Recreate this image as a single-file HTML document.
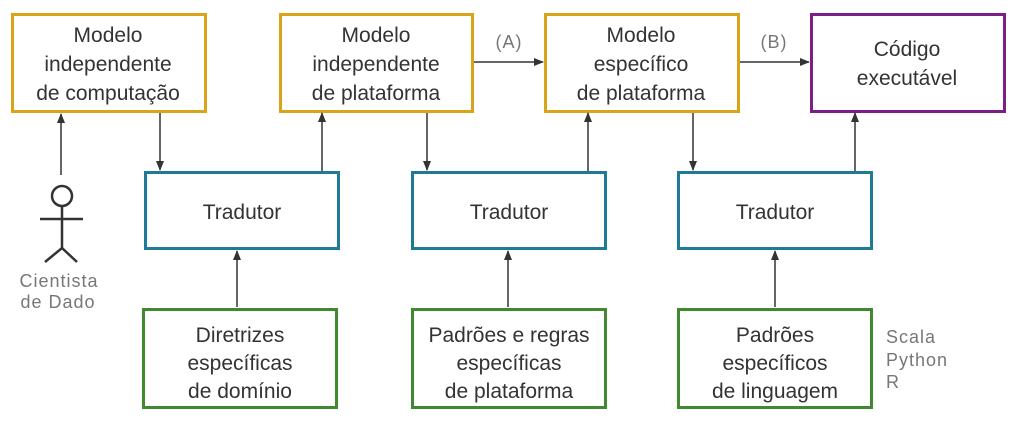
<!DOCTYPE html>
<html><head><meta charset="utf-8"><style>
html,body{margin:0;padding:0;background:#fff;}
svg{display:block;}
text{font-family:"Liberation Sans",sans-serif;fill:#333;font-size:21px;text-anchor:middle;}
.g{fill:#777;font-size:18px;letter-spacing:1px;}
</style></head><body>
<svg width="1012" height="422" viewBox="0 0 1012 422">
<defs><marker id="a" markerWidth="10" markerHeight="10" refX="9" refY="4" orient="auto" markerUnits="userSpaceOnUse"><path d="M0,0 L10,4 L0,8 z" fill="#333"/></marker></defs>
<g fill="none" stroke-width="3">
<rect x="12.5" y="14.5" width="193" height="97" stroke="#d9a419"/>
<rect x="280.5" y="14.5" width="192" height="97" stroke="#d9a419"/>
<rect x="545.5" y="14.5" width="193" height="97" stroke="#d9a419"/>
<rect x="811.5" y="14.5" width="193" height="97" stroke="#7b1f86"/>
<rect x="145.5" y="172.5" width="193" height="76" stroke="#1e7a97"/>
<rect x="412.5" y="172.5" width="193" height="76" stroke="#1e7a97"/>
<rect x="678.5" y="172.5" width="193" height="76" stroke="#1e7a97"/>
<rect x="143.5" y="309.5" width="193" height="98" stroke="#3f8a2e"/>
<rect x="412.5" y="309.5" width="193" height="98" stroke="#3f8a2e"/>
<rect x="678.5" y="309.5" width="193" height="98" stroke="#3f8a2e"/>
</g>
<g stroke="#333" stroke-width="1.5" marker-end="url(#a)">
<line x1="61" y1="175" x2="61" y2="114"/>
<line x1="160" y1="113" x2="160" y2="170"/>
<line x1="322" y1="171" x2="322" y2="113"/>
<line x1="427" y1="113" x2="427" y2="170"/>
<line x1="588" y1="171" x2="588" y2="113"/>
<line x1="693" y1="113" x2="693" y2="170"/>
<line x1="855" y1="171" x2="855" y2="113"/>
<line x1="474" y1="62" x2="543" y2="62"/>
<line x1="740" y1="62" x2="809" y2="62"/>
<line x1="237" y1="307" x2="237" y2="251"/>
<line x1="508" y1="307" x2="508" y2="251"/>
<line x1="775" y1="307" x2="775" y2="251"/>
</g>
<g stroke="#333" stroke-width="2.5" fill="none">
<circle cx="62" cy="196" r="10"/>
<line x1="62" y1="206" x2="62" y2="248"/>
<line x1="40" y1="219" x2="83" y2="219"/>
<polyline points="45,262 62,248 77,262"/>
</g>
<text x="108" y="42">Modelo</text><text x="108" y="71">independente</text><text x="108" y="100">de computação</text>
<text x="376" y="42">Modelo</text><text x="376" y="71">independente</text><text x="376" y="100">de plataforma</text>
<text x="641" y="42">Modelo</text><text x="641" y="71">específico</text><text x="641" y="100">de plataforma</text>
<text x="907" y="56">Código</text><text x="907" y="85">executável</text>
<text x="242" y="219">Tradutor</text><text x="509" y="219">Tradutor</text><text x="775" y="219">Tradutor</text>
<text x="240" y="342">Diretrizes</text><text x="240" y="370">específicas</text><text x="240" y="398">de domínio</text>
<text x="509" y="342">Padrões e regras</text><text x="509" y="370">específicas</text><text x="509" y="398">de plataforma</text>
<text x="775" y="342">Padrões</text><text x="775" y="370">específicos</text><text x="775" y="398">de linguagem</text>
<text class="g" x="509" y="48">(A)</text><text class="g" x="774" y="48">(B)</text>
<text class="g" x="59" y="287">Cientista</text><text class="g" x="58" y="308">de Dado</text>
<text class="g" x="886" y="343" style="text-anchor:start">Scala</text>
<text class="g" x="886" y="366" style="text-anchor:start">Python</text>
<text class="g" x="886" y="388" style="text-anchor:start">R</text>
</svg>
</body></html>
